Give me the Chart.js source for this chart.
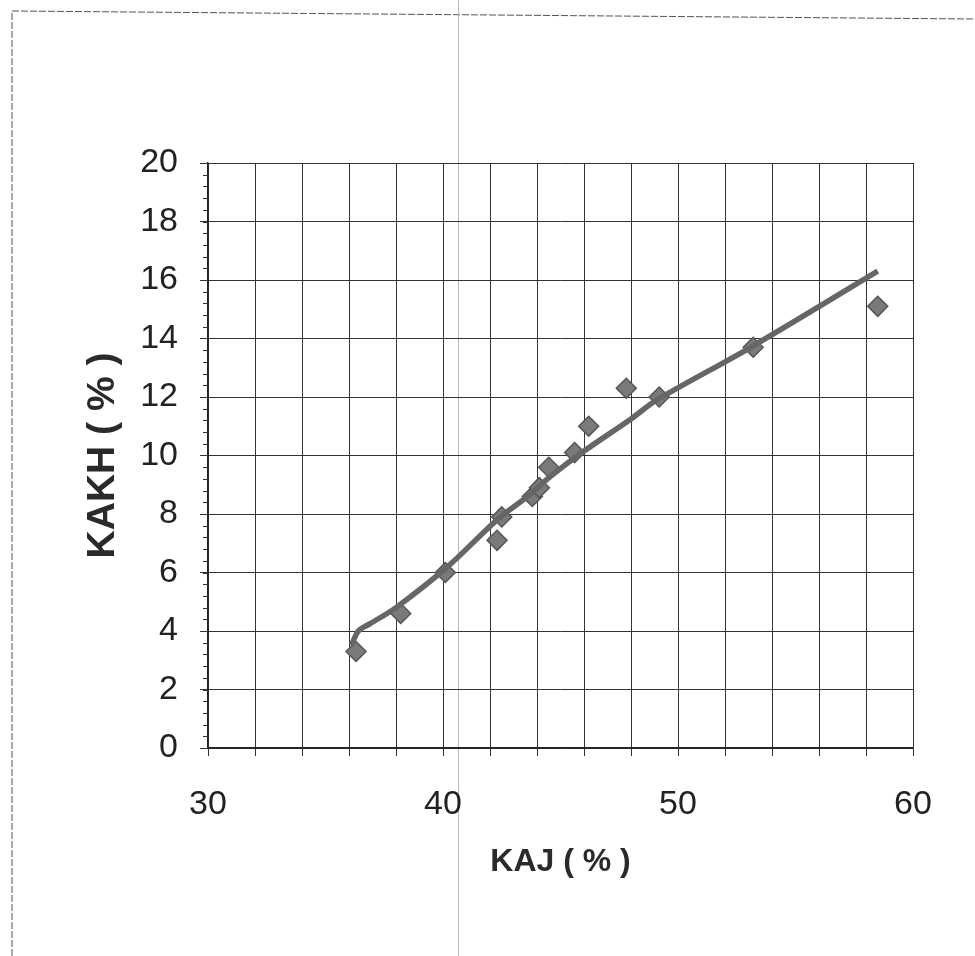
<!DOCTYPE html>
<html>
<head>
<meta charset="utf-8">
<script src="https://cdn.jsdelivr.net/npm/chart.js@4"></script>
<style>
  html, body { margin: 0; padding: 0; background: #fff; }
  #wrap { width: 975px; height: 956px; }
</style>
</head>
<body>
<div id="wrap"><canvas id="graphCanvas" width="975" height="956"></canvas></div>
<script>
// measured points, KAJ (%) vs KAKH (%)
const kaj  = [36.3, 38.2, 40.1, 42.3, 42.5, 43.8, 44.1, 44.5, 45.6, 46.2, 47.8, 49.2, 53.2, 58.5];
const kakh = [3.3, 4.6, 6.0, 7.1, 7.9, 8.6, 8.9, 9.6, 10.1, 11.0, 12.3, 12.0, 13.7, 15.1];

// trend line as drawn
const fitX = [36.1, 36.4, 36.9, 38.0, 40.2, 42.3, 43.6, 44.6, 46.0, 48.0, 49.1, 53.1, 58.5];
const fitY = [3.5, 4.0, 4.25, 4.8, 6.2, 7.8, 8.6, 9.3, 10.15, 11.25, 11.9, 13.7, 16.3];

const xLabels = [30, 40, 50, 60];
const yTicks = [0, 2, 4, 6, 8, 10, 12, 14, 16, 18, 20];

function pairs(xs, ys) {
    let out = [];
    for (let i in xs) {
        out.push({x: xs[i], y: ys[i]});
    }
    return out;
}

// page frame, scan fold line and minor ticks on the y axis
const extras = {
    id: 'extras',
    beforeDraw(chart) {
        const c = chart.ctx;
        c.save();
        c.fillStyle = '#fff';
        c.fillRect(0, 0, chart.width, chart.height);
        c.strokeStyle = '#555';
        c.lineWidth = 1;
        c.setLineDash([7, 2]);
        c.beginPath();
        c.moveTo(12, 956);
        c.lineTo(12, 11);
        c.lineTo(975, 19);
        c.stroke();
        c.setLineDash([]);
        c.strokeStyle = '#b4bac4';
        c.beginPath();
        c.moveTo(458.5, 0);
        c.lineTo(458.5, 956);
        c.stroke();
        c.restore();
    },
    afterDatasetsDraw(chart) {
        const c = chart.ctx;
        const y = chart.scales.y;
        const left = chart.chartArea.left;
        c.save();
        c.strokeStyle = '#333';
        c.lineWidth = 1;
        for (let v = 0; v <= 20.001; v += 0.4) {
            const py = Math.round(y.getPixelForValue(v)) + 0.5;
            c.beginPath();
            c.moveTo(left - 5, py);
            c.lineTo(left, py);
            c.stroke();
        }
        c.restore();
    }
};

let graphTarget = document.getElementById('graphCanvas');
let scatter = new Chart(graphTarget, {
    type: 'scatter',
    data: {
        datasets: [{
            label: 'trend',
            data: pairs(fitX, fitY),
            showLine: true,
            borderColor: '#666666',
            borderWidth: 5.5,
            pointRadius: 0,
            tension: 0.3,
            fill: false
        }, {
            label: 'KAKH',
            data: pairs(kaj, kakh),
            pointStyle: 'rectRot',
            pointRadius: 10,
            backgroundColor: '#7a7a7a',
            borderColor: '#555555',
            borderWidth: 1.5
        }]
    },
    options: {
        responsive: false,
        animation: false,
        events: [],
        layout: { padding: { left: 0, right: 62, top: 163, bottom: 0 } },
        plugins: {
            legend: { display: false },
            tooltip: { enabled: false }
        },
        scales: {
            x: {
                type: 'linear',
                min: 30,
                max: 60,
                afterFit(s) { s.height = 208; },
                border: { color: '#222', width: 1.5 },
                grid: { color: '#333', lineWidth: 1, tickLength: 8 },
                ticks: {
                    stepSize: 2,
                    autoSkip: false,
                    maxRotation: 0,
                    padding: 28,
                    color: '#222',
                    font: { family: 'Liberation Sans, Arial', size: 34 },
                    callback: v => xLabels.includes(v) ? String(v) : ''
                },
                title: {
                    display: true,
                    text: 'KAJ ( % )',
                    color: '#2a2a2a',
                    font: { family: 'Liberation Sans, Arial', size: 32, weight: 'bold' },
                    padding: { top: 0, bottom: 75 }
                }
            },
            y: {
                type: 'linear',
                min: 0,
                max: 20,
                afterFit(s) { s.width = 208; },
                afterBuildTicks(s) { s.ticks = yTicks.map(v => ({value: v})); },
                border: { color: '#222', width: 1.5 },
                grid: { color: '#333', lineWidth: 1, tickLength: 8 },
                ticks: {
                    padding: 22,
                    color: '#222',
                    font: { family: 'Liberation Sans, Arial', size: 34 }
                },
                title: {
                    display: true,
                    text: 'KAKH ( % )',
                    color: '#2a2a2a',
                    font: { family: 'Liberation Sans, Arial', size: 39, weight: 'bold' },
                    padding: { top: 80, bottom: 0 }
                }
            }
        }
    },
    plugins: [extras]
});
</script>
</body>
</html>
